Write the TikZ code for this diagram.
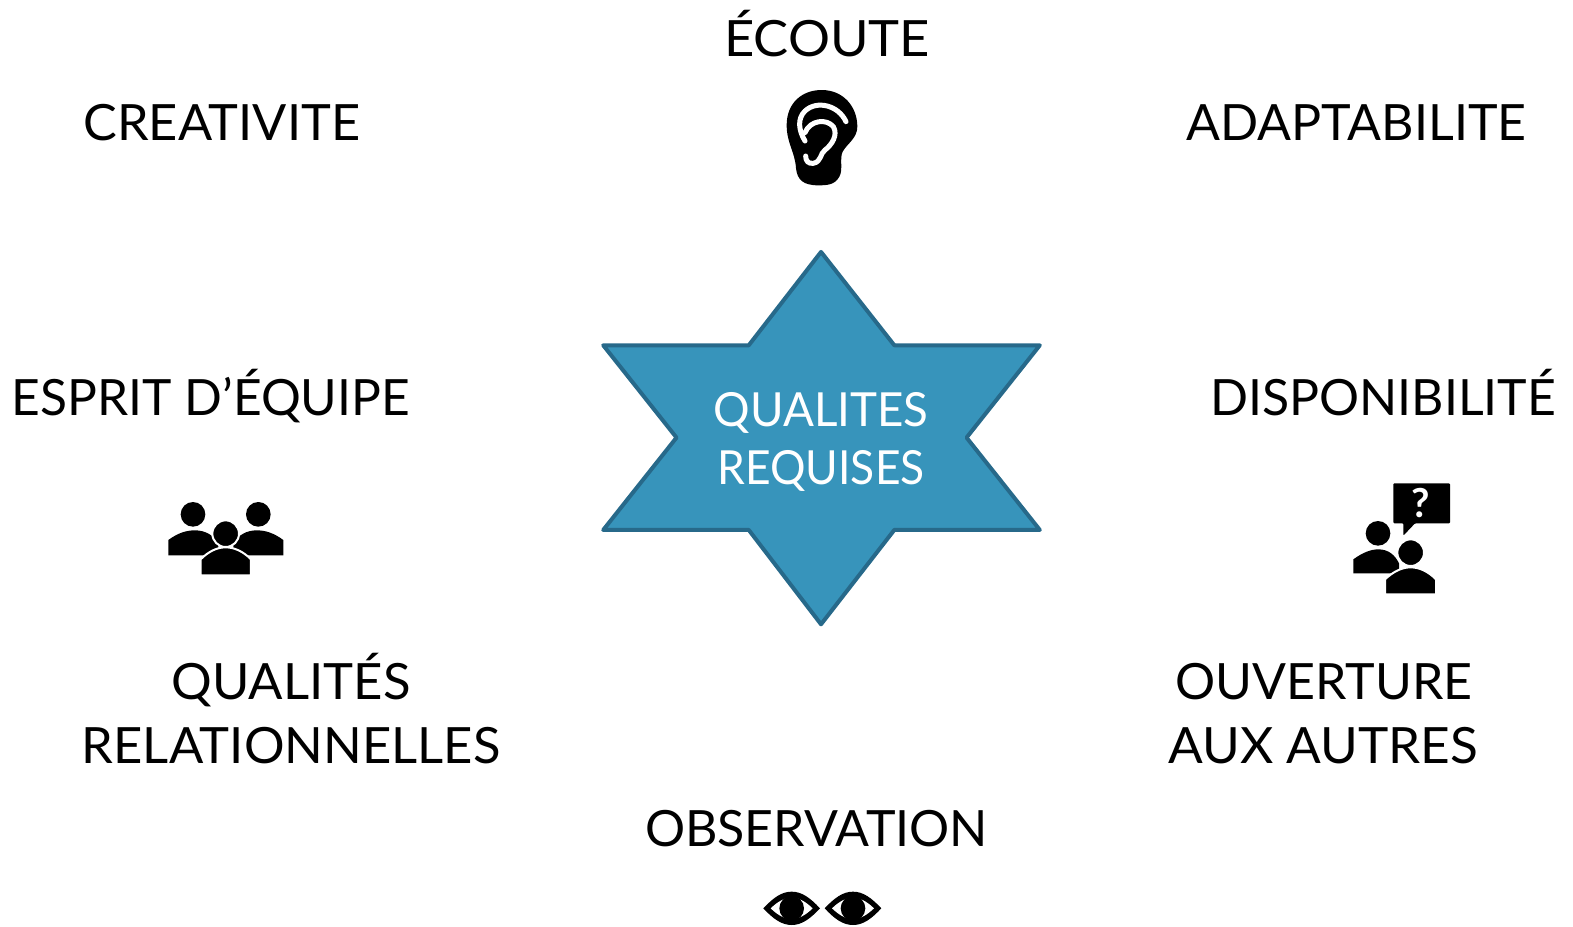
\documentclass[tikz,border=0pt]{standalone}
\usepackage{fontspec}
\setmainfont{Lato}
\definecolor{starfill}{HTML}{3794BB}
\definecolor{starline}{HTML}{27698A}
\newcommand{\sx}[2]{\scalebox{#1}[1]{#2}}
\tikzset{
  lab/.style={font=\fontsize{50}{63}\selectfont, text=black, anchor=base, inner sep=0pt},
  starlab/.style={font=\fontsize{47}{58}\selectfont, text=white, anchor=base, inner sep=0pt},
  icon/.style={fill=black, draw=none},
  halo/.style={fill=black, draw=white, line width=2},
  cutline/.style={draw=white, line width=5, line cap=round, line join=round},
  zoomed/.style={x=0.3333pt, y=-0.3333pt}
}
\begin{document}
\begin{tikzpicture}[x=1pt,y=-1pt]
\useasboundingbox (0,0) rectangle (1573,926);
\begin{scope}[x=1.0037pt,y=-1.0037pt]
% star
\draw[fill=starfill, draw=starline, line width=4, line join=round]
 (818,251) -- (891,344) -- (1036,344) -- (963,436) -- (1036,528) -- (891,528) -- (818,622) -- (746,528) -- (601,528) -- (674,436) -- (601,344) -- (746,344) -- cycle;
\node[starlab] (centre1) at (818,425) {\sx{0.972}{QUALITES}};
\node[starlab] (centre2) at (818,483) {\sx{0.944}{REQUISES}};
% labels
\node[lab] (ecoute) at (824,56) {\sx{1.05}{ÉCOUTE}};
\node[lab] (crea) at (221,140) {\sx{1.011}{CREATIVITE}};
\node[lab] (adapt) at (1351.5,140) {\sx{1.003}{ADAPTABILITE}};
\node[lab] (esprit) at (210,414) {\sx{0.995}{ESPRIT D’ÉQUIPE}};
\node[lab] (dispo) at (1378,414) {DISPONIBILITÉ};
\node[lab] (qual1) at (290,697) {\sx{1.017}{QUALITÉS}};
\node[lab] (qual2) at (290,761) {\sx{1.015}{RELATIONNELLES}};
\node[lab] (ouv1) at (1319,697) {\sx{1.003}{OUVERTURE}};
\node[lab] (ouv2) at (1318.5,761) {\sx{1.027}{AUX AUTRES}};
\node[lab] (obs) at (813.5,843) {\sx{1.003}{OBSERVATION}};
\end{scope}
% ear
\begin{scope}[shift={(760,80)}, zoomed]
\path[icon] (80,135) .. controls (80,70) and (125,30) .. (185,30)
  .. controls (250,30) and (292,80) .. (292,140)
  .. controls (292,175) and (262,190) .. (248,215)
  .. controls (238,235) and (250,270) .. (238,290)
  .. controls (225,315) and (200,316) .. (175,316)
  .. controls (130,316) and (112,300) .. (108,265)
  .. controls (105,215) and (80,190) .. (80,135) -- cycle;
\draw[cutline] (135,183) .. controls (115,150) and (112,115) .. (135,93)
  .. controls (170,60) and (235,75) .. (258,125);
\draw[cutline] (135,158) .. controls (150,120) and (200,115) .. (220,140)
  .. controls (235,165) and (215,195) .. (195,210)
  .. controls (180,220) and (185,245) .. (160,250)
  .. controls (145,252) and (137,243) .. (137,228);
\end{scope}
% team
\begin{scope}[shift={(150,490)}, zoomed]
\path[icon] (129,73) circle[radius=37];
\path[icon] (325,73) circle[radius=37];
\path[icon] (55,196) -- (55,150) .. controls (85,128) and (110,121) .. (135,121)
  .. controls (165,121) and (190,135) .. (205,160) -- (205,196) -- cycle;
\path[icon] (400,196) -- (400,150) .. controls (370,128) and (345,121) .. (320,121)
  .. controls (290,121) and (265,135) .. (250,160) -- (250,196) -- cycle;
\path[halo] (227,131) circle[radius=40];
\path[halo] (152,256) -- (152,208) .. controls (175,185) and (200,172) .. (227,172)
  .. controls (254,172) and (280,185) .. (303,208) -- (303,256) -- cycle;
\end{scope}
% dialogue
\begin{scope}[shift={(1335,470)}, zoomed]
\path[icon, rounded corners=1] (175,40) -- (345,40) -- (345,160) -- (240,160) -- (205,197) -- (205,160) -- (175,160) -- cycle;
\node[font=\bfseries\fontsize{40}{40}\selectfont, text=white, inner sep=0pt] (q) at (258,100) {?};
\path[icon] (129,190) circle[radius=37];
\path[icon] (55,310) -- (55,268) .. controls (85,246) and (110,238) .. (130,238)
  .. controls (160,238) and (180,255) .. (192,280) -- (192,310) -- cycle;
\path[halo] (227,248) circle[radius=40];
\path[halo] (150,373) -- (150,328) .. controls (175,305) and (200,292) .. (227,292)
  .. controls (254,292) and (280,305) .. (303,328) -- (303,373) -- cycle;
\end{scope}
% eyes
\begin{scope}[shift={(750,875)}, zoomed]
\foreach \dx in {0,184}{
\begin{scope}[xshift=\dx*0.3333pt]
\path[icon] (40,100) .. controls (70,68) and (95,50) .. (125,50)
  .. controls (155,50) and (180,68) .. (210,100)
  .. controls (180,132) and (155,150) .. (125,150)
  .. controls (95,150) and (70,132) .. (40,100) -- cycle;
\path[fill=white] (62,100) .. controls (85,78) and (105,68) .. (125,68)
  .. controls (145,68) and (165,78) .. (188,100)
  .. controls (165,122) and (145,132) .. (125,132)
  .. controls (105,132) and (85,122) .. (62,100) -- cycle;
\path[icon] (125,100) circle[radius=37];
\end{scope}}
\end{scope}
\end{tikzpicture}
\end{document}
